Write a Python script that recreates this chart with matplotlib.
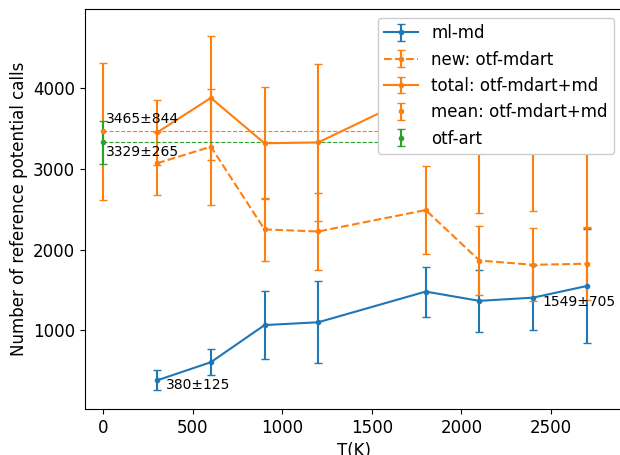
import matplotlib
matplotlib.use("Agg")
import matplotlib.pyplot as plt

T = [300, 600, 900, 1200, 1800, 2100, 2400, 2700]
mlmd = [380, 605, 1065, 1100, 1480, 1365, 1405, 1549]
mlmd_err = [125, 160, 425, 510, 310, 380, 405, 705]
new = [3070, 3275, 2250, 2225, 2490, 1865, 1812, 1825]
new_err = [392, 720, 385, 480, 550, 433, 453, 450]
total = [3452, 3880, 3318, 3328, 3968, 3232, 3220, 3374]
total_err = [400, 765, 692, 977, 744, 777, 740, 1100]
mean_total, mean_total_err = 3465, 844
art, art_err = 3329, 265

fig = plt.figure(figsize=(6.2, 4.55), dpi=100)
ax = fig.add_axes([85/620, 1-409/455, (622.6-85)/620, (409-9.3)/455])

ax.errorbar(T, mlmd, yerr=mlmd_err, fmt='.-', color='C0', capsize=3, label='ml-md')
ax.errorbar(T, new, yerr=new_err, fmt='.--', color='C1', capsize=3, label='new: otf-mdart')
ax.errorbar(T, total, yerr=total_err, fmt='.-', color='C1', capsize=3, label='total: otf-mdart+md')
ax.errorbar([0], [mean_total], yerr=[mean_total_err], fmt='.', color='C1', capsize=3,
            label='mean: otf-mdart+md')
ax.errorbar([0], [art], yerr=[art_err], fmt='.', color='C2', capsize=3, label='otf-art')
ax.hlines(mean_total, 0, T[-1], colors='C1', linestyles='--', lw=0.8)
ax.hlines(art, 0, T[-1], colors='C2', linestyles='--', lw=0.8)

ax.text(14, 3565, f'{mean_total}±{mean_total_err}', fontsize=10)
ax.text(14, 3160, f'{art}±{art_err}', fontsize=10)
ax.text(347, 273, f'{mlmd[0]}±{mlmd_err[0]}', fontsize=10)
ax.text(2451, 1301, f'{mlmd[-1]}±{mlmd_err[-1]}', fontsize=10)

ax.set_xlim(-103, 2900)
ax.set_ylim(25, 4978)
ax.set_xticks([0, 500, 1000, 1500, 2000, 2500])
ax.set_yticks([1000, 2000, 3000, 4000])
ax.tick_params(labelsize=12)
ax.set_xlabel('T(K)', fontsize=12)
ax.set_ylabel('Number of reference potential calls', fontsize=12)
ax.legend(loc='upper right', fontsize=12, framealpha=1)

fig.savefig('out.png', dpi=100)
